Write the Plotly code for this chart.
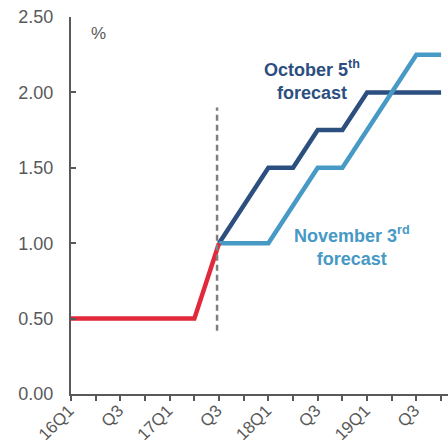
import plotly.graph_objects as go

quarters = ["16Q1", "16Q2", "16Q3", "16Q4", "17Q1", "17Q2", "17Q3", "17Q4",
            "18Q1", "18Q2", "18Q3", "18Q4", "19Q1", "19Q2", "19Q3", "19Q4"]
tick_labels = ["16Q1", "", "Q3", "", "17Q1", "", "Q3", "",
               "18Q1", "", "Q3", "", "19Q1", "", "Q3", ""]

actual_x = quarters[0:7]
actual_vals = [0.5, 0.5, 0.5, 0.5, 0.5, 0.5, 1.0]

fc_x = quarters[6:]
oct5_vals = [1.0, 1.25, 1.5, 1.5, 1.75, 1.75, 2.0, 2.0, 2.0, 2.0]
nov3_vals = [1.0, 1.0, 1.0, 1.25, 1.5, 1.5, 1.75, 2.0, 2.25, 2.25]

divider_x = 5.92
divider_y = [0.42, 1.9]

RED = "#E2293B"
DARK = "#2C4F7F"
LIGHT = "#4799C6"
GRAY = "#595959"
FONT = "Liberation Sans, Arial, sans-serif"

fig = go.Figure()
fig.add_trace(go.Scatter(x=fc_x, y=oct5_vals, mode="lines",
                         line=dict(color=DARK, width=4.5), hoverinfo="skip"))
fig.add_trace(go.Scatter(x=fc_x, y=nov3_vals, mode="lines",
                         line=dict(color=LIGHT, width=4.5), hoverinfo="skip"))
fig.add_trace(go.Scatter(x=actual_x, y=actual_vals, mode="lines",
                         line=dict(color=RED, width=4.5), hoverinfo="skip"))

fig.add_shape(type="line", xref="x", yref="y",
              x0=divider_x, x1=divider_x, y0=divider_y[0], y1=divider_y[1],
              line=dict(color="#7F7F7F", width=2.5, dash="6px,4px"))

fig.add_annotation(x=9.77, y=2.08, xref="x", yref="y", showarrow=False,
                   text="<b>October 5<sup>th</sup><br>forecast</b>",
                   font=dict(family=FONT, size=18, color=DARK), align="center")
fig.add_annotation(x=11.39, y=0.98, xref="x", yref="y", showarrow=False,
                   text="<b>November 3<sup>rd</sup><br>forecast</b>",
                   font=dict(family=FONT, size=18, color=LIGHT), align="center")
fig.add_annotation(x=(98 - 71) / 377, y=1 - (33 - 17) / 377,
                   xref="paper", yref="paper", showarrow=False,
                   xanchor="center", yanchor="middle",
                   text="%", font=dict(family=FONT, size=17, color=GRAY))

fig.update_layout(
    width=448, height=444,
    margin=dict(l=71, r=0, t=17, b=50),
    paper_bgcolor="white", plot_bgcolor="white",
    showlegend=False,
    font=dict(family=FONT, color=GRAY),
    xaxis=dict(type="category", categoryorder="array", categoryarray=quarters,
               range=[0, 15.28], tickmode="array", tickvals=quarters,
               ticktext=tick_labels, tickangle=-45, automargin=False,
               ticklabelstandoff=-7, ticklabelshift=-2,
               showline=True, linecolor=GRAY, linewidth=2,
               ticks="outside", ticklen=5, tickwidth=1.5, tickcolor=GRAY,
               showgrid=False, zeroline=False,
               tickfont=dict(family=FONT, size=17, color=GRAY)),
    yaxis=dict(range=[0, 2.5], tickvals=[0, 0.5, 1.0, 1.5, 2.0, 2.5],
               tickformat=".2f", automargin=False,
               showline=True, linecolor=GRAY, linewidth=2,
               ticks="inside", ticklen=5, tickwidth=1.5, tickcolor=GRAY,
               showgrid=False, zeroline=False, ticklabelstandoff=12,
               tickfont=dict(family=FONT, size=18, color=GRAY)),
)

fig.write_html("out.html")
